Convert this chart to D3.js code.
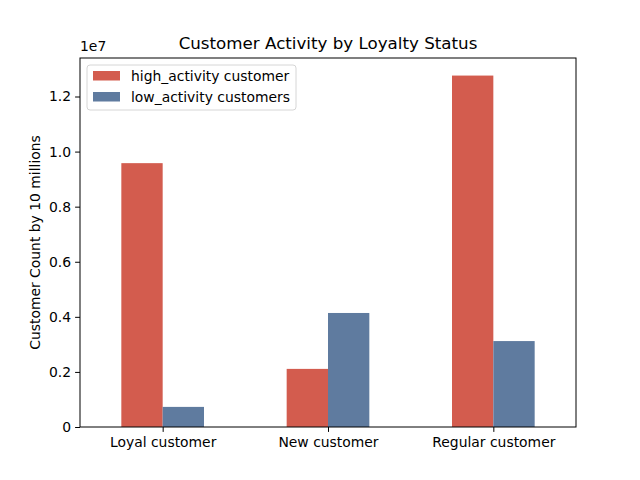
<!DOCTYPE html>
<html>
<head>
<meta charset="utf-8">
<script src="https://cdn.jsdelivr.net/npm/d3@7"></script>
<style>
  body { margin: 0; background: #fff; }
  text { font-family: "DejaVu Sans", sans-serif; fill: #000; }
</style>
</head>
<body>
<div id="chart"></div>
<script>
// Chart data
var categories = ["Loyal customer", "New customer", "Regular customer"];
var seriesNames = ["high_activity customer", "low_activity customers"];
var highActivity = [9580000, 2110000, 12760000];
var lowActivity = [730000, 4140000, 3120000];
var yTicks = [0, 0.2, 0.4, 0.6, 0.8, 1.0, 1.2];

var width = 640, height = 480;
var margin = {left: 80, right: 64, top: 58, bottom: 53};
var colors = ["#d35c4e", "#5f7b9f"];

var svg = d3.select("#chart").append("svg")
    .attr("width", width)
    .attr("height", height);

var plotW = width - margin.left - margin.right;
var plotH = height - margin.top - margin.bottom;

// x: category index from -0.5 to 2.5, like pandas
var x = d3.scaleLinear().domain([-0.5, categories.length - 0.5]).range([0, plotW]);
var yMax = d3.max(highActivity.concat(lowActivity)) * 1.05;
var y = d3.scaleLinear().domain([0, yMax]).range([plotH, 0]);

var g = svg.append("g").attr("transform", "translate(" + margin.left + "," + margin.top + ")");

var barW = 0.25;
var series = [highActivity, lowActivity];

series.forEach(function(vals, s) {
    g.selectAll(".bar" + s)
        .data(vals)
        .join("rect")
        .attr("x", (d, i) => x(i - barW + s * barW))
        .attr("width", x(barW) - x(0))
        .attr("y", d => y(d))
        .attr("height", d => y(0) - y(d))
        .attr("fill", colors[s]);
});

// axes
var xAxis = d3.axisBottom(x)
    .tickValues(d3.range(categories.length))
    .tickFormat(i => categories[i])
    .tickSize(4.9).tickPadding(5.5);
var yAxis = d3.axisLeft(y)
    .tickValues(yTicks.map(t => t * 1e7))
    .tickFormat(d => d === 0 ? "0" : (d / 1e7).toFixed(1))
    .tickSize(4.9).tickPadding(4);

var gx = g.append("g").attr("transform", "translate(0," + plotH + ")").call(xAxis);
var gy = g.append("g").call(yAxis);
[gx, gy].forEach(function(a) {
    a.select(".domain").remove();
    a.selectAll("line").attr("stroke", "#000").attr("stroke-width", 1);
    a.selectAll("text").style("font-size", "13.9px").style("font-family", "DejaVu Sans");
});

// frame
g.append("rect")
    .attr("width", plotW).attr("height", plotH)
    .attr("fill", "none").attr("stroke", "#000").attr("stroke-width", 1);

// offset text
svg.append("text")
    .attr("x", margin.left).attr("y", margin.top - 7)
    .style("font-size", "13.9px")
    .text("1e7");

// title
svg.append("text")
    .attr("x", margin.left + plotW / 2).attr("y", margin.top - 9)
    .attr("text-anchor", "middle")
    .style("font-size", "16.7px")
    .text("Customer Activity by Loyalty Status");

// y label
svg.append("text")
    .attr("transform", "translate(40," + (margin.top + plotH / 2) + ") rotate(-90)")
    .attr("text-anchor", "middle")
    .style("font-size", "13.9px")
    .text("Customer Count by 10 millions");

// legend
var leg = g.append("g").attr("transform", "translate(7,7)");
leg.append("rect")
    .attr("width", 209).attr("height", 45).attr("rx", 3)
    .attr("fill", "#fff").attr("fill-opacity", 0.8)
    .attr("stroke", "#ccc").attr("stroke-width", 0.8);
seriesNames.forEach(function(name, i) {
    leg.append("rect")
        .attr("x", 6).attr("y", 6 + i * 21)
        .attr("width", 27).attr("height", 9.5)
        .attr("fill", colors[i]);
    leg.append("text")
        .attr("x", 44).attr("y", 15.5 + i * 21)
        .style("font-size", "13.9px")
        .text(name);
});
</script>
</body>
</html>
